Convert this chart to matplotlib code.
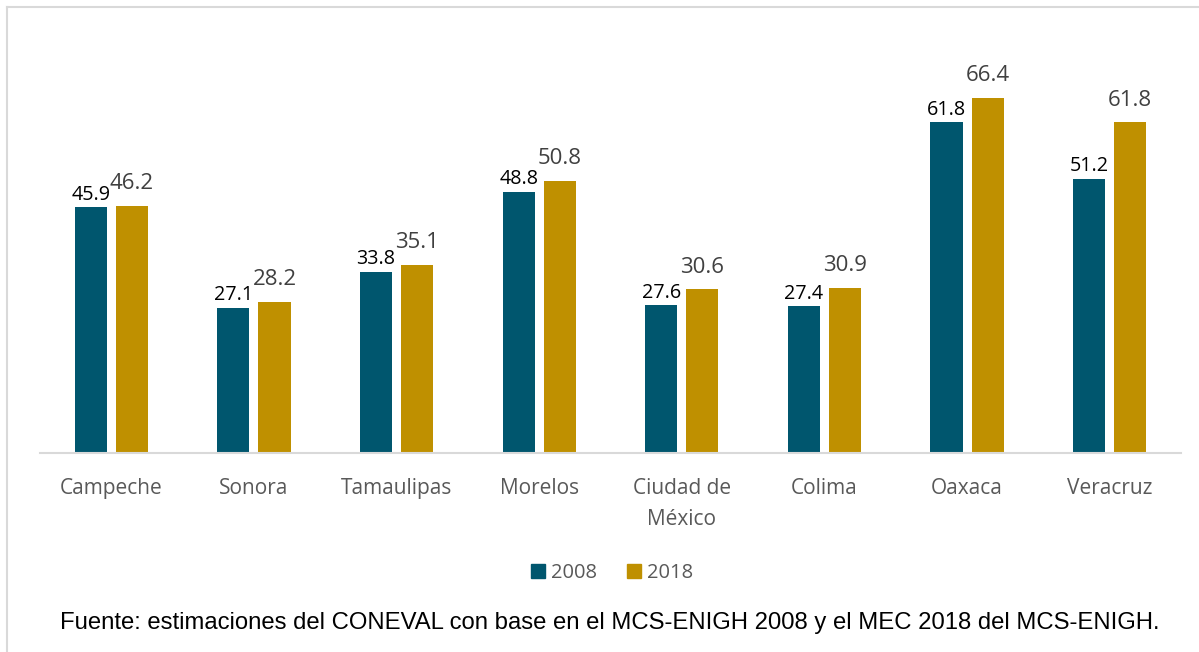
import matplotlib.pyplot as plt
import numpy as np
from matplotlib.lines import Line2D

estados = ['Campeche', 'Sonora', 'Tamaulipas', 'Morelos', 'Ciudad de\nMéxico',
           'Colima', 'Oaxaca', 'Veracruz']
v2008 = [45.9, 27.1, 33.8, 48.8, 27.6, 27.4, 61.8, 51.2]
v2018 = [46.2, 28.2, 35.1, 50.8, 30.6, 30.9, 66.4, 61.8]

c2008 = '#00566E'
c2018 = '#BF9000'

plt.rcParams['font.family'] = ['Open Sans', 'DejaVu Sans']

fig = plt.figure(figsize=(11.99, 6.52), dpi=100)
ax = fig.add_axes([40/1199, 199/652, 1141/1199, 70*5.35/652])

x = np.arange(len(estados))
w = 0.225
off = 0.144
ax.bar(x - off, v2008, w, color=c2008, label='2008')
ax.bar(x + off, v2018, w, color=c2018, label='2018')

for xi, v in zip(x, v2008):
    ax.text(xi - off, v + 0.5, f'{v:.1f}', ha='center', va='bottom',
            fontsize=14.2, color='black')
for xi, v in zip(x, v2018):
    ax.text(xi + off, v + 2.2, f'{v:.1f}', ha='center', va='bottom',
            fontsize=16, color='#404040')

ax.set_xlim(-0.5, 7.5)
ax.set_ylim(0, 70)
ax.set_yticks([])
ax.set_xticks(x)
ax.set_xticklabels(estados, fontsize=15, color='#595959', va='top', linespacing=1.6)
ax.tick_params(axis='x', length=0, pad=18)
for s in ['top', 'right', 'left']:
    ax.spines[s].set_visible(False)
ax.spines['bottom'].set_color('#D9D9D9')
ax.spines['bottom'].set_linewidth(1.5)

handles = [plt.Rectangle((0, 0), 1, 1, color=c2008), plt.Rectangle((0, 0), 1, 1, color=c2018)]
fig.legend(handles, ['2008', '2018'], loc='center', bbox_to_anchor=(612/1199, 1 - 573/652),
           ncol=2, frameon=False, fontsize=14.5, labelcolor='#595959',
           handlelength=0.7, handleheight=0.7, handletextpad=0.3, columnspacing=1.45)

fig.text(610/1199, 1 - 623/652,
         'Fuente: estimaciones del CONEVAL con base en el MCS-ENIGH 2008 y el MEC 2018 del MCS-ENIGH.',
         ha='center', va='center', fontsize=17.2, family='Liberation Sans', color='black')

# marco gris
fig.add_artist(Line2D([7/1199, 1], [1 - 7/652, 1 - 7/652], color='#D9D9D9', lw=1.5))
fig.add_artist(Line2D([7/1199, 7/1199], [0, 1 - 7/652], color='#D9D9D9', lw=1.5))

fig.savefig('out.png', dpi=100)
